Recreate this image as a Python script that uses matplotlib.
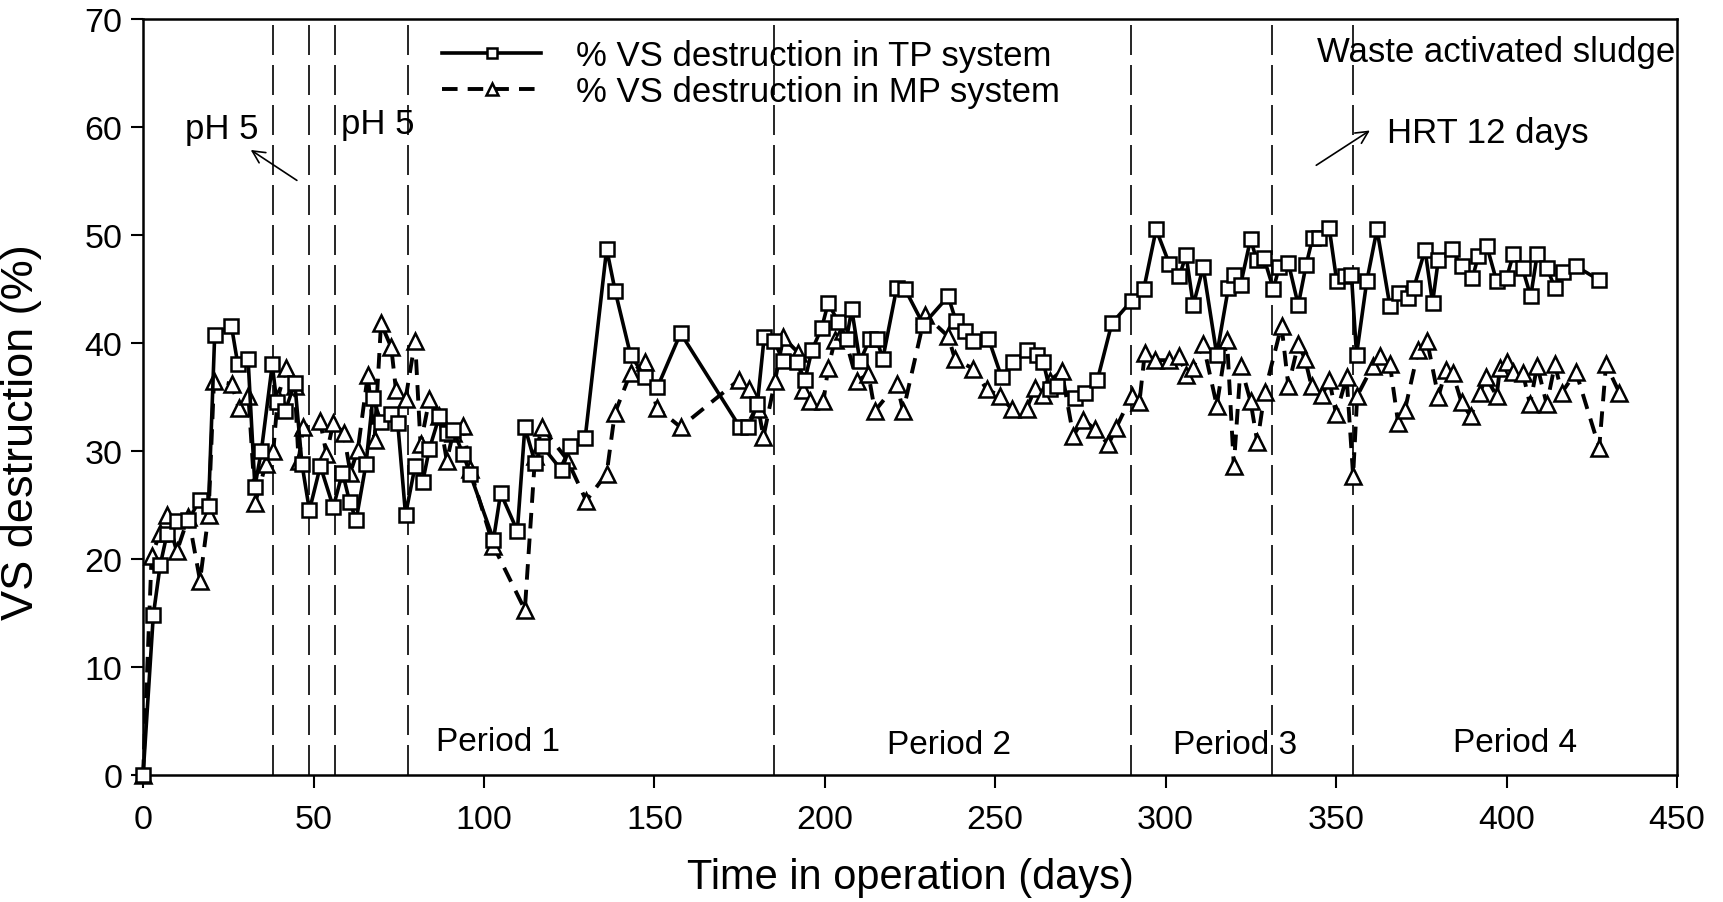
import matplotlib
matplotlib.use("Agg")
import matplotlib.pyplot as plt

plt.rcParams['font.family'] = ['Liberation Sans', 'DejaVu Sans']

# ---- data ----
tp_days = [0, 3, 5, 7, 10, 13.3, 16.7, 19.2, 21, 25.9, 27.8, 30.8, 32.8, 34.7, 37.9, 39.2,
           41.7, 44.5, 46.6, 48.8, 52, 55.8, 58.5, 60.6, 62.5, 65.4, 67.4, 69.8, 72.8, 74.7,
           77, 79.8, 82, 84, 86.9, 89.1, 91, 93.9, 95.9, 102.8, 104.9, 109.8, 112, 115, 117,
           122.8, 125.3, 129.7, 136, 138.5, 143, 147.3, 150.9, 157.7, 175.1, 177.6, 180.2,
           182.2, 185.1, 187.8, 191.7, 194.2, 196.2, 199.1, 201, 204, 206.4, 207.9, 210.3,
           213.3, 215.2, 217, 221.1, 223.5, 228.9, 236.2, 238.5, 241.1, 243.6, 248, 251.9,
           255.3, 259.2, 262.2, 264.1, 266, 268, 273.4, 276.3, 280, 284.2, 290, 293.6, 297.2,
           301.1, 304, 306, 308.1, 311, 315, 318.4, 320, 322, 324.9, 326.7, 328.8, 331.6,
           333.3, 336, 338.9, 341.2, 343.1, 345.1, 348, 350.2, 352.5, 354.5, 356, 359, 362,
           365.8, 368.5, 371.2, 372.8, 376.1, 378.3, 380, 383.9, 386.8, 390, 391.7, 394.2,
           397.1, 400, 402, 404.7, 407.1, 409, 411.9, 414.2, 416.5, 420.4, 427.2]
tp_vals = [0, 14.8, 19.4, 22.3, 23.5, 23.6, 25.5, 24.9, 40.7, 41.6, 38.0, 38.5, 26.7, 30.0, 38.0, 34.5,
           33.7, 36.3, 28.8, 24.5, 28.6, 24.8, 28.0, 25.3, 23.6, 28.8, 34.9, 32.7, 33.4, 32.6,
           24.1, 28.6, 27.1, 30.2, 33.2, 31.7, 31.9, 29.7, 27.9, 21.8, 26.1, 22.6, 32.2, 28.9, 30.5,
           28.2, 30.5, 31.2, 48.7, 44.8, 38.9, 36.8, 35.9, 40.9, 32.2, 32.2, 34.3,
           40.5, 40.2, 38.3, 38.2, 36.6, 39.3, 41.4, 43.7, 41.9, 40.4, 43.1, 38.3,
           40.4, 40.4, 38.5, 45.1, 45.0, 41.7, 44.3, 42.0, 41.1, 40.2, 40.4, 36.8,
           38.2, 39.3, 38.9, 38.2, 35.7, 36.0, 34.9, 35.4, 36.6, 41.8, 43.9, 45.0, 50.5,
           47.3, 46.2, 48.1, 43.5, 47.0, 38.9, 45.1, 46.3, 45.4, 49.6, 47.7, 47.9, 45.0,
           47.0, 47.4, 43.5, 47.2, 49.7, 49.7, 50.6, 45.7, 46.2, 46.3, 38.9, 45.7, 50.5,
           43.4, 44.6, 44.2, 45.1, 48.6, 43.7, 47.7, 48.7, 47.1, 46.0, 48.0, 49.0,
           45.7, 46.0, 48.2, 46.9, 44.3, 48.2, 46.9, 45.1, 46.6, 47.1, 45.8]

mp_days = [0, 2.5, 5, 6.9, 9.9, 13.3, 16.7, 19.2, 20.8, 26, 28, 30.9, 32.9, 36, 38.2, 39.5,
           42, 44.5, 45.6, 47, 51.9, 53.8, 55.8, 58.8, 60.8, 63, 65.9, 67.9, 69.8, 72.8, 74.2,
           77, 79.8, 81.4, 84, 86.9, 89.1, 91, 93.9, 95.9, 102.8, 112, 115, 117, 124.4, 130,
           136, 138.4, 143, 147.3, 150.7, 157.7, 174.9, 177.8, 180.5, 182, 185.4, 187.8,
           192.2, 193.5, 195.7, 199.6, 201, 203, 205.4, 209.4, 212.8, 214.7, 221.1, 223,
           229.4, 236.2, 238.2, 243.6, 247.5, 251.4, 254.8, 259.2, 261.7, 264.1, 266, 269.5,
           272.9, 275.8, 279.3, 283.2, 285.4, 290, 292.3, 293.9, 296.9, 301.1, 304, 306,
           308.1, 311, 315, 318, 320, 322, 324.9, 326.9, 329.1, 334, 336, 338.9, 340.9,
           342.8, 346, 348, 350, 353.1, 355, 356.2, 360.8, 363, 365.8, 368.2, 370.2, 374.1,
           376.7, 380, 382.2, 384.2, 386.8, 389.5, 392.2, 394, 397.1, 398.1, 400, 401.8,
           404.8, 406.9, 409, 411.8, 414.2, 416.2, 420.4, 427.2, 429.2, 433.1]
mp_vals = [0, 20.3, 22.4, 24.1, 20.7, 23.9, 18.0, 24.1, 36.5, 36.2, 34.0, 35.1, 25.2, 28.8, 30.0, 34.9,
           37.7, 36.0, 29.1, 32.2, 32.8, 29.7, 32.6, 31.7, 28.0, 30.1, 37.0, 31.0, 41.8, 39.6, 35.6,
           34.8, 40.2, 30.6, 34.8, 33.2, 29.1, 31.7, 32.3, 28.3, 21.2, 15.3, 29.5, 32.2, 29.2, 25.4,
           27.9, 33.5, 37.2, 38.2, 34.0, 32.2, 36.6, 35.7, 33.9, 31.3, 36.5, 40.5,
           39.1, 35.6, 34.6, 34.6, 37.7, 40.3, 41.1, 36.5, 37.1, 33.7, 36.2, 33.7,
           42.6, 40.6, 38.5, 37.6, 35.7, 35.1, 33.9, 33.9, 35.8, 35.2, 36.5, 37.4,
           31.4, 32.9, 32.0, 30.6, 32.1, 35.1, 34.5, 39.1, 38.4, 38.4, 38.8, 37.0,
           37.7, 39.9, 34.2, 40.3, 28.6, 37.9, 34.6, 30.8, 35.5, 41.6, 36.0, 39.9, 38.5,
           36.0, 35.2, 36.6, 33.4, 36.8, 27.7, 35.1, 37.9, 38.8, 38.0, 32.6, 33.8, 39.3,
           40.2, 35.0, 37.5, 37.2, 34.5, 33.2, 35.4, 36.8, 35.1, 37.7, 38.2, 37.3,
           37.2, 34.3, 37.9, 34.3, 38.0, 35.4, 37.3, 30.3, 38.0, 35.4]

period_lines = [38, 48.6, 56.4, 77.7, 185.2, 289.7, 331.1, 354.9]
period_labels = ["Period 1", "Period 2", "Period 3", "Period 4"]
period_label_x = [86, 218.2, 302.3, 384.3]
period_label_y = [3.1, 2.8, 2.8, 3.05]

x_ticks = [0, 50, 100, 150, 200, 250, 300, 350, 400, 450]
y_ticks = [0, 10, 20, 30, 40, 50, 60, 70]

# ---- figure ----
fig = plt.figure(figsize=(17.24, 9.03), dpi=100)
ax = fig.add_axes([0.083, 0.1406, 0.8897, 0.8375])

for xv in period_lines:
    ax.axvline(xv, color='black', lw=1.2, linestyle=(0, (18, 6)), zorder=1)

ax.plot(tp_days, tp_vals, color='black', lw=2.6, linestyle='-', marker='s', ms=10,
        mfc='white', mec='black', mew=1.8, clip_on=False, zorder=3,
        label='% VS destruction in TP system')
ax.plot(mp_days, mp_vals, color='black', lw=2.8, linestyle=(0, (4, 2.6)), marker='^', ms=11,
        mfc='white', mec='black', mew=1.8, clip_on=False, zorder=2,
        label='% VS destruction in MP system')

ax.set_xlim(0, 450)
ax.set_ylim(0, 70)
ax.set_xticks(x_ticks)
ax.set_yticks(y_ticks)
ax.tick_params(axis='both', direction='out', length=9, width=1.5, labelsize=24.5, pad=6)
ax.tick_params(axis='x', pad=12)
for s in ax.spines.values():
    s.set_linewidth(1.8)

ax.set_xlabel('Time in operation (days)', fontsize=30, labelpad=16)
ax.set_ylabel('VS destruction (%)', fontsize=32.5)
ax.yaxis.set_label_coords(-0.066, 0.455)

for lab, xl, yl in zip(period_labels, period_label_x, period_label_y):
    ax.text(xl, yl, lab, fontsize=24, ha='left', va='center')

ax.text(12.3, 59.8, 'pH 5', fontsize=25, ha='left', va='center')
ax.text(58.0, 60.3, 'pH 5', fontsize=25, ha='left', va='center')
ax.annotate('', xy=(30.9, 58.0), xytext=(45.8, 54.9),
            arrowprops=dict(arrowstyle='->', lw=1.2, color='black', mutation_scale=22))
ax.text(365, 59.5, 'HRT 12 days', fontsize=25, ha='left', va='center')
ax.annotate('', xy=(360.6, 59.8), xytext=(343.5, 56.3),
            arrowprops=dict(arrowstyle='->', lw=1.2, color='black', mutation_scale=22))
ax.text(344.4, 67.0, 'Waste activated sludge', fontsize=25, ha='left', va='center')

leg = ax.legend(loc='upper left', bbox_to_anchor=(0.177, 1.01), frameon=False, fontsize=25,
                handlelength=2.85, handletextpad=1.0, labelspacing=0.08, numpoints=1,
                markerscale=0.75, borderpad=0.3)

fig.savefig('out.png', dpi=100)
